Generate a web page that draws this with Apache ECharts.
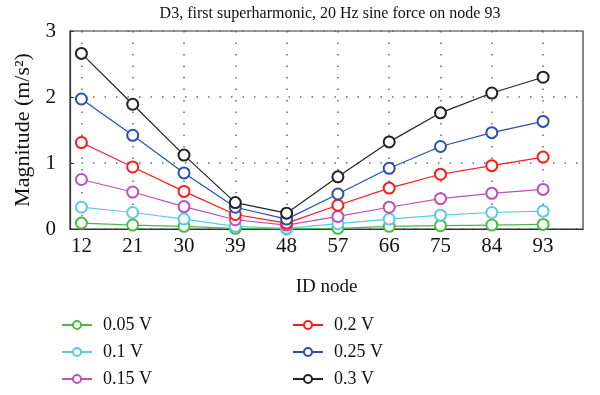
<!DOCTYPE html>
<html><head><meta charset="utf-8">
<script src="https://cdn.jsdelivr.net/npm/echarts@6/dist/echarts.min.js"></script>
<style>html,body{margin:0;padding:0;background:#fff}#c{width:600px;height:395px}</style>
</head><body><div id="c"></div>
<script>
const nodes = [12, 21, 30, 39, 48, 57, 66, 75, 84, 93];
const yTicks = [0, 1, 2, 3];
const seriesNames = ['0.05 V', '0.1 V', '0.15 V', '0.2 V', '0.25 V', '0.3 V'];
const v005 = [0.09, 0.06, 0.04, 0.01, 0.00, 0.01, 0.04, 0.05, 0.06, 0.07];
const v010 = [0.33, 0.25, 0.15, 0.04, 0.01, 0.08, 0.15, 0.21, 0.25, 0.27];
const v015 = [0.75, 0.56, 0.34, 0.14, 0.06, 0.19, 0.33, 0.46, 0.54, 0.60];
const v020 = [1.31, 0.94, 0.57, 0.22, 0.09, 0.36, 0.62, 0.83, 0.96, 1.09];
const v025 = [1.97, 1.42, 0.85, 0.33, 0.15, 0.53, 0.92, 1.25, 1.46, 1.63];
const v030 = [2.66, 1.89, 1.12, 0.40, 0.24, 0.79, 1.32, 1.76, 2.06, 2.30];
const values = [v005, v010, v015, v020, v025, v030];
const colors = ['#4cb944', '#5ccbe0', '#c04fb5', '#ff1a1a', '#2a4fb0', '#222222'];

const font = 'Liberation Serif, Times New Roman, serif';
const chart = echarts.init(document.getElementById('c'));
const series = seriesNames.map((n, i) => ({
  name: n, type: 'line',
  data: nodes.map((x, j) => [x, values[i][j]]),
  symbol: 'emptyCircle', symbolSize: 11,
  lineStyle: { width: 1.2, color: colors[i] },
  itemStyle: { color: colors[i], borderWidth: 1.2 },
  emphasis: { disabled: true }
}));
const legendText = { fontFamily: font, fontSize: 18, color: '#111', padding: [0, 0, 0, 6] };
chart.setOption({
  animation: false,
  title: { text: 'D3, first superharmonic, 20 Hz sine force on node 93', left: 325, top: 1, textAlign: 'center',
    textStyle: { fontFamily: font, fontSize: 16, fontWeight: 'normal', color: '#111' } },
  grid: { left: 70, right: 17, top: 31, bottom: 166, show: true, borderColor: '#333', borderWidth: 1.2 },
  legend: [
    { data: seriesNames.slice(0, 3), orient: 'vertical', left: 61, top: 316, padding: 0, itemWidth: 30, itemHeight: 10, itemGap: 9,
      textStyle: legendText, selectedMode: false },
    { data: seriesNames.slice(3), orient: 'vertical', left: 292, top: 316, padding: 0, itemWidth: 30, itemHeight: 10, itemGap: 9,
      textStyle: legendText, selectedMode: false }
  ],
  xAxis: {
    type: 'value', min: 10, max: 100,
    name: 'ID node', nameLocation: 'middle', nameGap: 49,
    nameTextStyle: { fontFamily: font, fontSize: 19, color: '#111' },
    axisLine: { lineStyle: { color: '#333', width: 1.2 } },
    axisTick: { inside: true, length: 4, customValues: nodes, lineStyle: { color: '#333' } },
    axisLabel: { customValues: nodes, fontFamily: font, fontSize: 21, color: '#111', margin: 7 },
    splitLine: { show: true, lineStyle: { type: [1.5, 10], color: '#666', width: 1.5 } }
  },
  yAxis: {
    type: 'value', min: 0, max: 3, interval: 1,
    name: 'Magnitude (m/s²)', nameLocation: 'middle', nameGap: 31,
    nameTextStyle: { fontFamily: font, fontSize: 22, color: '#111' },
    axisLine: { show: true, lineStyle: { color: '#333', width: 1.2 } },
    axisTick: { show: true, inside: true, length: 4, lineStyle: { color: '#333' } },
    axisLabel: { fontFamily: font, fontSize: 21, color: '#111', margin: 14 },
    splitLine: { show: true, lineStyle: { type: [1.5, 10], color: '#666', width: 1.5 } }
  },
  series: series
});
</script></body></html>
